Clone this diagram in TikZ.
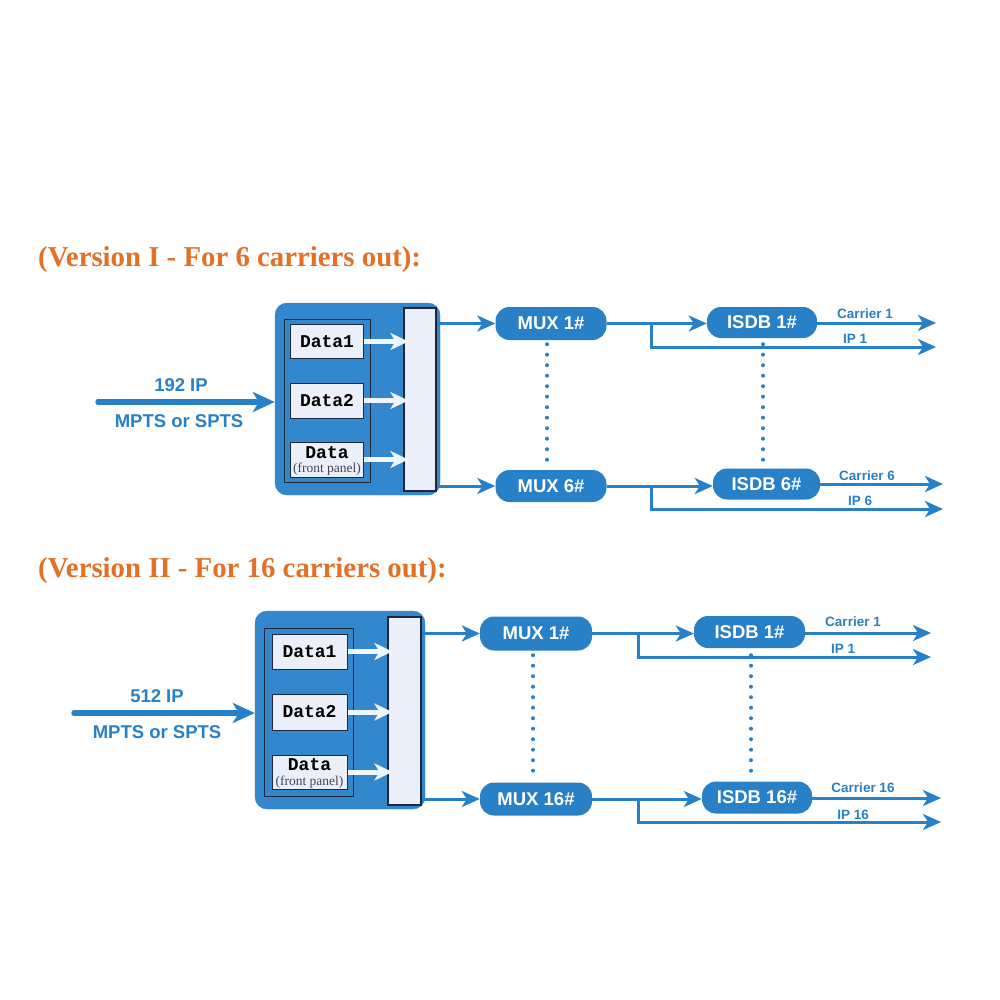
\documentclass[tikz,border=0pt]{standalone}
\usepackage{fontspec}
\setmainfont{Liberation Sans}
\newfontfamily\titlefont{Liberation Serif}
\newfontfamily\monofont{Liberation Mono}
\usetikzlibrary{arrows.meta}
\definecolor{boxblue}{RGB}{50,135,205}
\definecolor{lineblue}{RGB}{40,128,198}
\definecolor{paleblue}{RGB}{234,239,249}
\definecolor{darkline}{RGB}{30,40,60}
\definecolor{orangetitle}{RGB}{226,112,38}
\tikzset{
  titletext/.style={font=\titlefont\bfseries\fontsize{28.8}{31}\selectfont, text=orangetitle, anchor=west, inner sep=0},
  bigbox/.style={fill=boxblue, draw=boxblue, rounded corners=12pt, inner sep=0},
  innerrect/.style={draw=darkline, line width=1pt, inner sep=0},
  databox/.style={fill=paleblue, draw=darkline, line width=1pt, inner sep=0, font=\monofont\bfseries\fontsize{18}{19}\selectfont},
  tallrect/.style={fill=paleblue, draw=darkline, line width=1.2pt, inner sep=0},
  pill/.style={fill=lineblue, rounded corners=14pt, inner sep=0, text=white, font=\bfseries\fontsize{18.5}{20}\selectfont},
  conn/.style={draw=lineblue, line width=3pt, -{Stealth[length=18pt,width=16pt,inset=5pt]}},
  plainconn/.style={draw=lineblue, line width=3pt},
  whitearrow/.style={draw=white!92!boxblue, line width=5pt, -{Stealth[length=18pt,width=17pt,inset=5pt]}},
  inarrow/.style={draw=lineblue, line width=5.5pt, line cap=round, -{Stealth[length=22pt,width=20pt,inset=6pt]}},
  dotline/.style={draw=lineblue, line width=4pt, line cap=round, dash pattern=on 0pt off 10.5pt},
  inlabel/.style={text=lineblue, font=\bfseries\fontsize{18.5}{20}\selectfont, inner sep=0},
  outlabel/.style={text=lineblue, font=\bfseries\fontsize{13.5}{14}\selectfont, inner sep=0},
  fronttext/.style={inner sep=0, font=\titlefont\fontsize{13.5}{14}\selectfont, text=darkline!85},
  datatext/.style={inner sep=0, font=\monofont\bfseries\fontsize{18}{19}\selectfont},
}
\begin{document}
\begin{tikzpicture}[x=1pt,y=-1pt]
\useasboundingbox (0,0) rectangle (1000,1000);

% ================= Version I =================
\node[titletext] (t1) at (38,260) {(Version I - For 6 carriers out):};

\node[bigbox, minimum width=165pt, minimum height=192pt] (box1) at (357.5,399) {};
\node[innerrect, minimum width=86pt, minimum height=163pt] (in1) at (327.5,401) {};
\node[databox, minimum width=73pt, minimum height=34pt] (d11) at (327,341.5) {Data1};
\node[databox, minimum width=73pt, minimum height=35pt] (d12) at (327,400.5) {Data2};
\node[databox, minimum width=73pt, minimum height=35pt] (d13) at (327,459.5) {};
\node[datatext] (d13a) at (327,452.5) {Data};
\node[fronttext] (d13b) at (327,469.5) {(front panel)};
\node[tallrect, minimum width=32pt, minimum height=183pt] (tall1) at (420,399.5) {};

\draw[whitearrow] (d11.east) -- ([xshift=5pt]tall1.west |- d11.east);
\draw[whitearrow] (d12.east) -- ([xshift=5pt]tall1.west |- d12.east);
\draw[whitearrow] (d13.east) -- ([xshift=5pt]tall1.west |- d13.east);

\coordinate (src1) at (98,402);
\draw[inarrow] (src1) -- (box1.west |- src1);
\node[inlabel] (l192) at (181,385) {192 IP};
\node[inlabel] (lmp1) at (179,421) {MPTS or SPTS};

\node[pill, minimum width=111pt, minimum height=33pt] (m11) at (551,323.5) {MUX 1\#};
\node[pill, minimum width=111pt, minimum height=32pt] (m16) at (551,486) {MUX 6\#};
\node[pill, minimum width=110pt, minimum height=31pt] (i11) at (762,322.5) {ISDB 1\#};
\node[pill, minimum width=107pt, minimum height=31pt] (i16) at (766.5,484) {ISDB 6\#};

\draw[conn] (tall1.east |- m11.west) -- (m11.west);
\draw[conn] (tall1.east |- m16.west) -- (m16.west);
\draw[conn] (m11.east) -- (i11.west |- m11.east);
\draw[conn] (m16.east) -- (i16.west |- m16.east);

\coordinate (b11) at (651,323.5);
\coordinate (c11) at (936,323);
\coordinate (p11) at (936,347);
\draw[plainconn] (b11) -- (b11 |- p11);
\draw[conn] ([xshift=-1.5pt]b11 |- p11) -- (p11);
\draw[conn] (i11.east |- c11) -- (c11);

\coordinate (b16) at (651,486);
\coordinate (c16) at (943,484);
\coordinate (p16) at (943,509);
\draw[plainconn] (b16) -- (b16 |- p16);
\draw[conn] ([xshift=-1.5pt]b16 |- p16) -- (p16);
\draw[conn] (i16.east |- c16) -- (c16);

\node[outlabel] (lc11) at (865,314) {Carrier 1};
\node[outlabel] (lp11) at (855,339) {IP 1};
\node[outlabel] (lc16) at (867,476) {Carrier 6};
\node[outlabel] (lp16) at (860,501) {IP 6};

\draw[dotline] ([xshift=-4pt,yshift=-4pt]m11.south) -- ([xshift=-4pt,yshift=5pt]m16.north);
\draw[dotline] ([xshift=1pt,yshift=-6pt]i11.south) -- ([xshift=-3.5pt,yshift=5pt]i16.north);

% ================= Version II =================
\node[titletext] (t2) at (38,571) {(Version II - For 16 carriers out):};

\node[bigbox, minimum width=170pt, minimum height=198pt] (box2) at (340,710) {};
\node[innerrect, minimum width=89pt, minimum height=168pt] (in2) at (308.5,712) {};
\node[databox, minimum width=75pt, minimum height=35pt] (d21) at (309.5,651.5) {Data1};
\node[databox, minimum width=75pt, minimum height=36pt] (d22) at (309.5,712) {Data2};
\node[databox, minimum width=75pt, minimum height=34pt] (d23) at (309.5,772) {};
\node[datatext] (d23a) at (309.5,765) {Data};
\node[fronttext] (d23b) at (309.5,782) {(front panel)};
\node[tallrect, minimum width=33pt, minimum height=188pt] (tall2) at (404.5,711) {};

\draw[whitearrow] (d21.east) -- ([xshift=5pt]tall2.west |- d21.east);
\draw[whitearrow] (d22.east) -- ([xshift=5pt]tall2.west |- d22.east);
\draw[whitearrow] (d23.east) -- ([xshift=5pt]tall2.west |- d23.east);

\coordinate (src2) at (74,713);
\draw[inarrow] (src2) -- (box2.west |- src2);
\node[inlabel] (l512) at (157,696) {512 IP};
\node[inlabel] (lmp2) at (157,732) {MPTS or SPTS};

\node[pill, minimum width=112pt, minimum height=34pt] (m21) at (536,633.5) {MUX 1\#};
\node[pill, minimum width=112pt, minimum height=33pt] (m26) at (536,799) {MUX 16\#};
\node[pill, minimum width=111pt, minimum height=32pt] (i21) at (749.5,632) {ISDB 1\#};
\node[pill, minimum width=110pt, minimum height=32pt] (i26) at (757,797.5) {ISDB 16\#};

\draw[conn] (tall2.east |- m21.west) -- (m21.west);
\draw[conn] (tall2.east |- m26.west) -- (m26.west);
\draw[conn] (m21.east) -- (i21.west |- m21.east);
\draw[conn] (m26.east) -- (i26.west |- m26.east);

\coordinate (b21) at (638,633.5);
\coordinate (c21) at (931,633);
\coordinate (p21) at (931,657);
\draw[plainconn] (b21) -- (b21 |- p21);
\draw[conn] ([xshift=-1.5pt]b21 |- p21) -- (p21);
\draw[conn] (i21.east |- c21) -- (c21);

\coordinate (b26) at (638,799);
\coordinate (c26) at (941,798);
\coordinate (p26) at (941,822);
\draw[plainconn] (b26) -- (b26 |- p26);
\draw[conn] ([xshift=-1.5pt]b26 |- p26) -- (p26);
\draw[conn] (i26.east |- c26) -- (c26);

\node[outlabel] (lc21) at (853,622) {Carrier 1};
\node[outlabel] (lp21) at (843,649) {IP 1};
\node[outlabel] (lc26) at (863,788) {Carrier 16};
\node[outlabel] (lp26) at (853,815) {IP 16};

\draw[dotline] ([xshift=-3pt,yshift=-4.5pt]m21.south) -- ([xshift=-3pt,yshift=7pt]m26.north);
\draw[dotline] ([xshift=1.5pt,yshift=-7pt]i21.south) -- ([xshift=-6pt,yshift=7pt]i26.north);

\end{tikzpicture}
\end{document}
